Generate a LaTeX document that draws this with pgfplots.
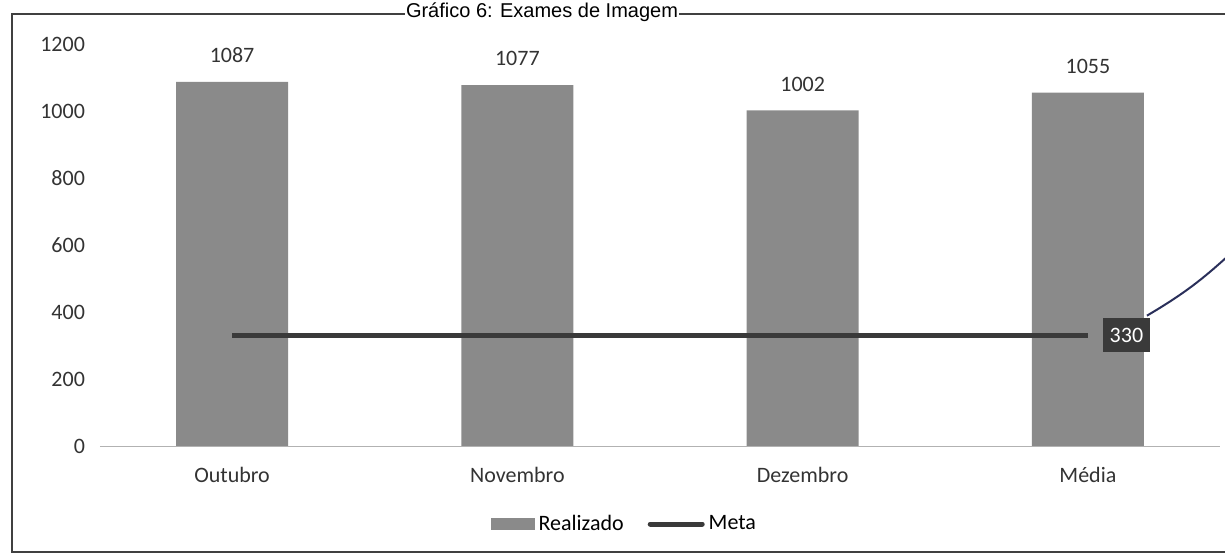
\documentclass[border=0pt]{standalone}
\usepackage{pgfplots}
\pgfplotsset{compat=1.18}
\usepackage{fontspec}
\setmainfont{Carlito}
\newfontfamily\titlefont{Liberation Sans}
\definecolor{barra}{HTML}{8A8A8A}
\definecolor{meta}{HTML}{3A3A3A}
\definecolor{caneta}{HTML}{2A2F5A}

\begin{document}
\begin{tikzpicture}
\begin{axis}[
    at={(0,0)}, anchor=south west,
    scale only axis,
    width=560pt, height=201pt,
    xmin=-0.463, xmax=3.463,
    ymin=0, ymax=1200,
    ytick={0,200,...,1200},
    xtick={0,1,2,3},
    xticklabels={Outubro,Novembro,Dezembro,Média},
    major tick length=0pt,
    axis line style={draw=none},
    tick label style={font=\fontsize{11}{13}\selectfont, text=black!80},
    /pgf/number format/assume math mode=true,
    /pgf/number format/1000 sep={},
    yticklabel style={xshift=-4pt},
    xticklabel style={yshift=-7pt},
    clip=false,
    legend columns=2,
    legend style={at={(0.469,0)}, anchor=center, yshift=-39pt,
        draw=none, fill=none, font=\fontsize{11}{13}\selectfont,
        /tikz/every even column/.append style={column sep=10pt}},
]
\addplot[ybar, bar width=56pt, fill=barra, draw=none,
    legend image code/.code={\fill[barra] (0pt,-3pt) rectangle (22pt,3pt);},
    nodes near coords,
    nodes near coords style={font=\fontsize{11}{13}\selectfont, text=black!80, anchor=south, yshift=6pt}]
    coordinates {(0,1087) (1,1077) (2,1002) (3,1055)};
\addlegendentry{Realizado}

\addplot[meta, line width=2.8pt, mark=none,
    legend image code/.code={\draw[meta, line width=2.5pt, line cap=round] (0pt,0pt) -- (26pt,0pt);}]
    coordinates {(0,330) (1,330) (2,330) (3,330)}
    node[pos=1, anchor=west, xshift=6pt, fill=meta, text=white, inner xsep=3.5pt,
         minimum height=17pt, font=\fontsize{11}{13}\selectfont] (lbl) {330};
\addlegendentry{Meta}

\draw[gray!60] (rel axis cs:0,0) -- (rel axis cs:1,0);
\coordinate (tr) at (rel axis cs:1.01,0.48);
\end{axis}

% traco de caneta saindo do rotulo
\draw[caneta, line width=1pt] ([xshift=-3pt]lbl.north east) to[bend right=6] (tr);

% moldura
\draw[black!75, line width=0.6pt] (570pt,216pt) -- (-44pt,216pt) -- (-44pt,-53pt) -- (570pt,-53pt);

\node[font=\titlefont\fontsize{10}{12}\selectfont, anchor=north, fill=white, inner sep=0.6pt]
    at (221pt,222.6pt) {Gráfico 6: Exames de Imagem};

\pgfresetboundingbox
\useasboundingbox (-50pt,-56pt) rectangle (562.5pt,223pt);
\end{tikzpicture}
\end{document}
